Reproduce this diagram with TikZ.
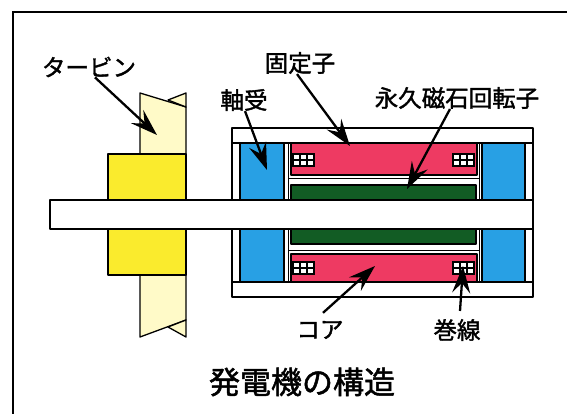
\documentclass[tikz,border=0pt]{standalone}
\usepackage{fontspec}
\setmainfont{Noto Sans CJK JP}
\newfontfamily\labelfont{Noto Sans CJK JP}[FakeBold=1.6]
\usepackage{xcolor}
\usetikzlibrary{arrows.meta}
\definecolor{hubyellow}{RGB}{250,235,45}
\definecolor{bladeyellow}{RGB}{255,250,200}
\definecolor{bearingblue}{RGB}{40,160,228}
\definecolor{corered}{RGB}{238,58,98}
\definecolor{rotorgreen}{RGB}{18,92,36}

\begin{document}
\begin{tikzpicture}[x=1pt,y=-1pt,
  part/.style={draw=black,line width=1.3pt,line join=round},
  pointer/.style={line width=2.3pt,-{Stealth[length=27pt,width=18pt,inset=10pt]}},
  label/.style={font=\labelfont\fontsize{23.5}{24}\selectfont,inner sep=0pt}]
\useasboundingbox (0,0) rectangle (567,414);
\draw [line width=1.8pt] (13,414) -- (13,12) -- (567,12);

% turbine blade with its twisted ends, hub on top
\draw [part,fill=bladeyellow] (140,93) -- (186,107) -- (186,320) -- (140,337) -- cycle;
\draw [part,fill=bladeyellow] (168,100) -- (186,93) -- (186,107) -- cycle;
\draw [part,fill=bladeyellow] (168,327) -- (186,337) -- (186,320) -- cycle;
\draw [part,fill=hubyellow] (108,154) rectangle (186,275);

% housing
\draw [part,fill=white] (232,128) rectangle (533,297);
\draw [part] (232,143) -- (533,143);
\draw [part] (232,282) -- (533,282);
\draw [part,fill=bearingblue] (240,143) rectangle (284,200);
\draw [part,fill=bearingblue] (240,229) rectangle (284,282);
\draw [part,fill=bearingblue] (482,143) rectangle (525,200);
\draw [part,fill=bearingblue] (482,229) rectangle (525,282);
\draw [part,line width=1pt] (288,143) -- (288,282);
\draw [part,line width=1pt] (479,143) -- (479,282);
\draw [part,line width=1pt] (288,179) -- (479,179);
\draw [part,line width=1pt] (288,250) -- (479,250);

% stator core and rotor magnet
\draw [part,fill=corered] (291,143) rectangle (477,175);
\draw [part,fill=corered] (291,254) rectangle (477,282);
\draw [part,fill=rotorgreen] (291,185) rectangle (476,200);
\draw [part,fill=rotorgreen] (291,229) rectangle (476,244);

% windings
\foreach \cx/\cy in {292/153, 452/153, 292/261, 452/261} {
  \fill (\cx,\cy) rectangle ++(23,14);
  \foreach \i in {0,1,2}
    \foreach \j in {0,1}
      \fill [white] (\cx+2+\i*7,\cy+2+\j*6) rectangle ++(5,4);
}

% shaft
\draw [part,fill=white] (50,200) rectangle (533,229);

\node [label] (turbine) at (89,67) {タービン};
\node [label] (stator) at (300,63) {固定子};
\node [label] (bearing) at (244,100) {軸受};
\node [label] (rotor) at (457,98) {永久磁石回転子};
\node [label] (core) at (320,330) {コア};
\node [label] (winding) at (457,330) {巻線};
\node [font=\labelfont\fontsize{31}{31}\selectfont] (title) at (302,382) {発電機の構造};

\coordinate (turbine tip) at (157,135);
\coordinate (stator tip) at (350,146);
\coordinate (bearing tip) at (267,170);
\coordinate (rotor tip) at (407,189);
\coordinate (core tip) at (375,266);
\coordinate (winding tip) at (463,266);

\draw [pointer] ([xshift=6pt]turbine.south) -- (turbine tip);
\draw [pointer] ([xshift=-3pt]stator.south) -- (stator tip);
\draw [pointer] ([xshift=1pt]bearing.south) -- (bearing tip);
\draw [pointer] ([xshift=-7pt]rotor.south) -- (rotor tip);
\draw [pointer] ([xshift=3pt,yshift=8pt]core.north) -- (core tip);
\draw [pointer] ([xshift=3pt,yshift=8pt]winding.north) -- (winding tip);
\end{tikzpicture}
\end{document}
